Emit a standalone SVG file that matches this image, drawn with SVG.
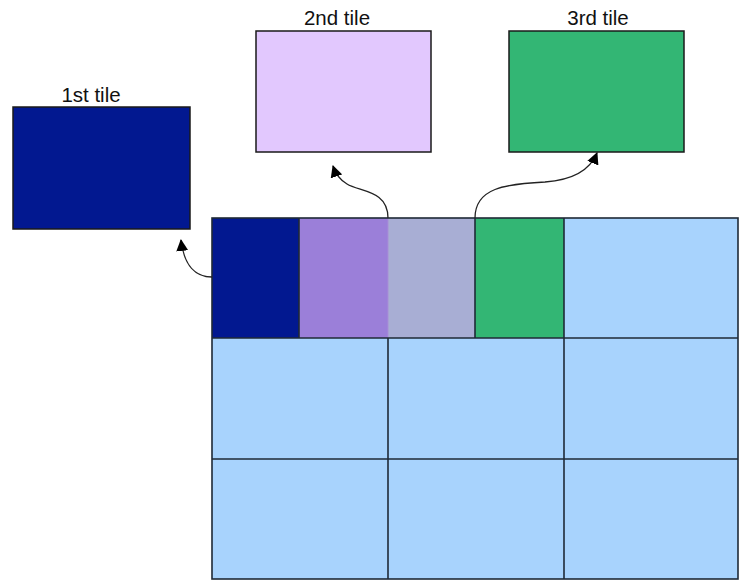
<svg xmlns="http://www.w3.org/2000/svg" width="742" height="588" viewBox="0 0 742 588">
<style>
.lbl{font-family:"Liberation Sans",Arial,sans-serif;font-size:20.5px;fill:#111;text-anchor:middle}
.tile{stroke:#1a1a1a;stroke-width:1.5}
.cell{stroke:#1f2a36;stroke-width:1.6}
.conn{fill:none;stroke:#222;stroke-width:1.3}
</style>
<defs>
<marker id="ah" viewBox="0 0 12 12" refX="11" refY="6" markerWidth="12" markerHeight="12" markerUnits="userSpaceOnUse" orient="auto">
<path d="M0,0 L12,6 L0,12 Z" fill="#000"/>
</marker>
</defs>
<rect width="742" height="588" fill="#fff"/>
<g id="tile1">
<rect class="tile" x="13" y="107" width="177" height="122" fill="#021890"/>
<text class="lbl" x="91" y="102">1st tile</text>
</g>
<g id="tile2">
<rect class="tile" x="256" y="31" width="175" height="121" fill="#e2c8fe"/>
<text class="lbl" x="337" y="25">2nd tile</text>
</g>
<g id="tile3">
<rect class="tile" x="509" y="31" width="175" height="121" fill="#33b674"/>
<text class="lbl" x="598" y="25">3rd tile</text>
</g>
<g id="grid">
<rect x="212" y="218" width="526" height="361" fill="#a8d3fd"/>
<rect x="212" y="218" width="87" height="120" fill="#021890"/>
<rect x="299" y="218" width="89" height="120" fill="#9b7fd9"/>
<rect x="388" y="218" width="87" height="120" fill="#a8aed4"/>
<rect x="475" y="218" width="89" height="120" fill="#33b674"/>
<g class="cell" fill="none">
<rect x="212" y="218" width="526" height="361"/>
<line x1="212" y1="338" x2="738" y2="338"/>
<line x1="212" y1="459" x2="738" y2="459"/>
<line x1="299" y1="218" x2="299" y2="338"/>
<line x1="475" y1="218" x2="475" y2="338"/>
<line x1="564" y1="218" x2="564" y2="579"/>
<line x1="388" y1="338" x2="388" y2="579"/>
</g>
<line x1="388" y1="219" x2="388" y2="337" stroke="#a78fd6" stroke-width="1"/>
</g>
<g id="connectors">
<path class="conn" marker-end="url(#ah)" d="M212,277 C196,277 184,266 181,240"/>
<path class="conn" marker-end="url(#ah)" d="M388,218 C388,190 360,192 347,184 C340,180 336,175 333,166"/>
<path class="conn" marker-end="url(#ah)" d="M475,218 C475,188 505,184 545,182 C572,180 590,170 597,153"/>
</g>
</svg>
